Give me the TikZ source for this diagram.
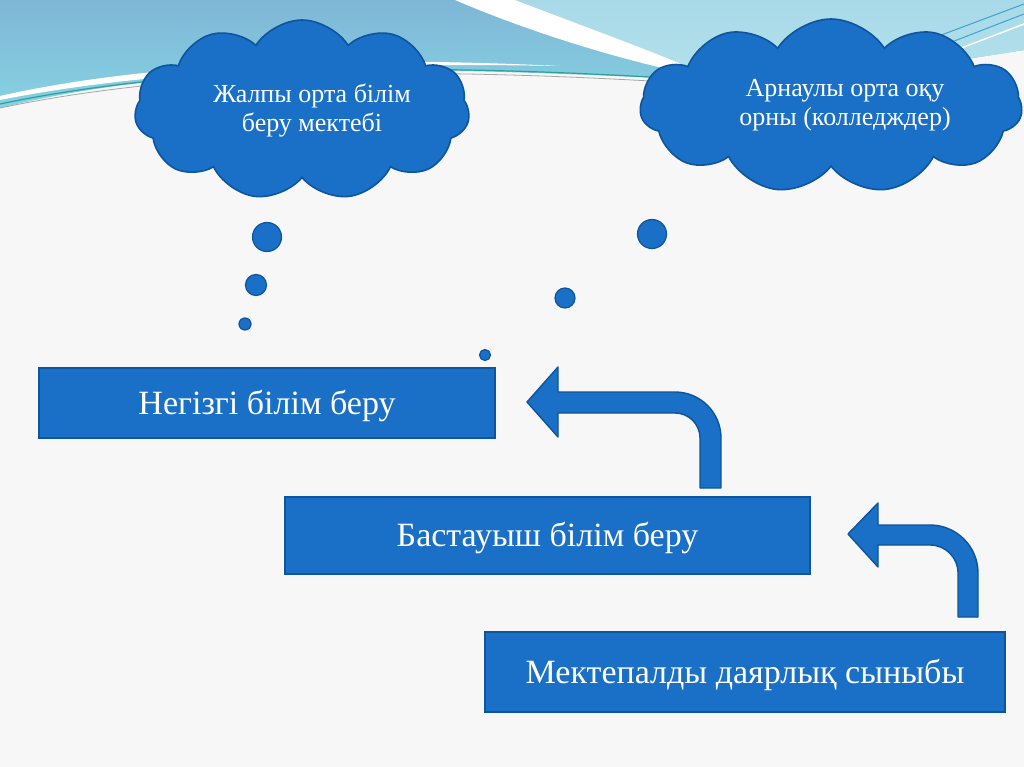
\documentclass[tikz,border=0pt]{standalone}
\usepackage{fontspec}
\setmainfont{Liberation Serif}
\usetikzlibrary{shapes.symbols}
\definecolor{bgc}{HTML}{F7F7F7}
\definecolor{boxblue}{HTML}{1A6FC6}
\definecolor{boxedge}{HTML}{0D559C}
\definecolor{skytop}{HTML}{7FB6D6}
\definecolor{skybot}{HTML}{86D2E2}
\definecolor{skylight}{HTML}{B3E2EC}
\definecolor{tealline}{HTML}{2AA39E}
\definecolor{diagline}{HTML}{3BA5CC}
\tikzset{
  box/.style={draw=boxedge, line width=1.6pt, fill=boxblue, text=white,
    font=\fontsize{34}{40}\selectfont, inner sep=0pt, text height=22.5pt, text depth=0pt},
  puffy/.style={cloud, cloud puffs=11, cloud puff arc=115, draw=boxedge,
    line width=1.6pt, fill=boxblue, inner sep=0pt},
  cloudtext/.style={text=white, align=center, font=\fontsize{26}{29}\selectfont},
  dot/.style={circle, draw=boxedge, line width=1.2pt, fill=boxblue, inner sep=0pt},
  bentarrow/.style={draw=boxedge, line width=1.4pt, fill=boxblue, line join=round}
}
\begin{document}
\begin{tikzpicture}[x=1pt,y=-1pt]
\useasboundingbox (0,0) rectangle (1024,767);
\fill[bgc] (0,0) rectangle (1024,767);
% background swoosh
\shade[top color=skytop, bottom color=skybot]
  (0,0) -- (1024,0) -- (1024,50) .. controls (900,70) and (800,82) .. (700,80)
  .. controls (450,68) and (200,58) .. (0,108) -- cycle;
\shade[top color=skylight!80!skytop, bottom color=skylight]
  (515,0) -- (1024,0) -- (1024,50) .. controls (900,70) and (800,82) .. (720,80)
  .. controls (650,50) and (580,25) .. (515,0) -- cycle;
\fill[white] (455,0) -- (515,0) .. controls (580,25) and (650,50) .. (720,80)
  .. controls (620,62) and (520,28) .. (455,0) -- cycle;
\fill[white] (0,96) .. controls (150,62) and (350,56) .. (560,66)
  .. controls (350,62) and (150,70) .. (0,100) -- cycle;
\draw[tealline, line width=1.2pt] (0,104) .. controls (200,62) and (450,64) .. (700,80);
\draw[gray!70, line width=0.8pt] (0,108) .. controls (200,66) and (450,68) .. (700,84);
\draw[diagline, line width=1pt] (1024,4) -- (880,58);
\draw[diagline, line width=1pt] (1024,14) -- (900,62);
\draw[white, line width=1.5pt] (1024,24) -- (930,60);
% clouds
\node[puffy, minimum width=335, minimum height=180] (c1) at (302,110) {};
\node[cloudtext] (t1) at (312,111) {Жалпы орта білім\\беру мектебі};
\node[puffy, minimum width=382, minimum height=174] (c2) at (831,106) {};
\node[cloudtext] (t2) at (845,105) {Арнаулы орта оқу\\орны (колледждер)};
% thought dots
\node[dot, minimum size=29] (d1) at (267,237) {};
\node[dot, minimum size=21] (d2) at (256,285) {};
\node[dot, minimum size=12] (d3) at (245,324) {};
\node[dot, minimum size=29] (d4) at (652,234) {};
\node[dot, minimum size=20] (d5) at (565,298) {};
\node[dot, minimum size=11] (d6) at (485,355) {};
% boxes
\node[box, minimum width=456, minimum height=70] (b1) at (267,403) {Негізгі білім беру};
\node[box, minimum width=525, minimum height=77] (b2) at (547.5,535.5) {Бастауыш білім беру};
\node[box, minimum width=520, minimum height=80] (b3) at (745,672) {Мектепалды даярлық сыныбы};
% bent arrows
\draw[bentarrow] (527,402) -- (558,367) -- (558,392) -- (675,392)
  .. controls (700.4,392) and (721,412.6) .. (721,438) -- (721,488) -- (700,488)
  -- (700,438) .. controls (700,424.2) and (688.8,413) .. (675,413)
  -- (558,413) -- (558,437) -- cycle;
\draw[bentarrow] (848,534) -- (878,503) -- (878,525) -- (930,525)
  .. controls (956.5,525) and (978,546.5) .. (978,573) -- (978,617) -- (958,617)
  -- (958,573) .. controls (958,557.5) and (945.5,545) .. (930,545)
  -- (878,545) -- (878,567) -- cycle;
\end{tikzpicture}
\end{document}
